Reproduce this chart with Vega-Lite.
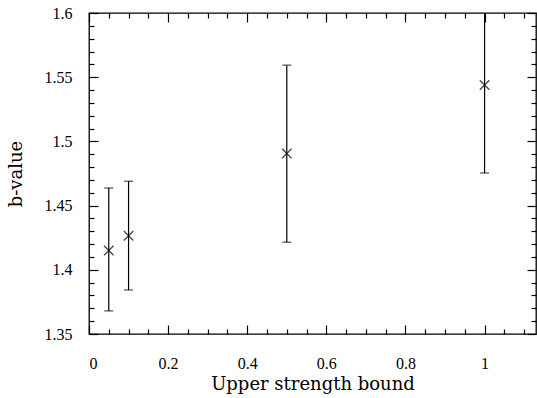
{
  "$schema": "https://vega.github.io/schema/vega-lite/v6.json",
  "width": 447,
  "height": 321,
  "autosize": "none",
  "padding": {"left": 89, "top": 13, "right": 1, "bottom": 64},
  "background": "white",
  "config": {
    "view": {"stroke": "black", "strokeWidth": 1.3},
    "axis": {"labelFont": "Liberation Serif", "titleFont": "DejaVu Serif", "labelColor": "black", "titleColor": "black", "tickColor": "black", "domain": false, "grid": false, "titleFontWeight": "normal", "labelFontSize": 16, "titleFontSize": 18, "tickWidth": 1.2}
  },
  "data": {
    "values": [
      {"bound": 0.05, "b": 1.415, "lo": 1.368, "hi": 1.4637},
      {"bound": 0.1, "b": 1.4266, "lo": 1.3843, "hi": 1.469},
      {"bound": 0.5, "b": 1.4905, "lo": 1.4215, "hi": 1.5594},
      {"bound": 1.0, "b": 1.544, "lo": 1.4754, "hi": 1.613}
    ]
  },
  "resolve": {"axis": {"x": "independent", "y": "independent"}},
  "layer": [
    {
      "mark": {"type": "rule", "clip": true, "color": "black", "strokeWidth": 1.2},
      "encoding": {
        "x": {"field": "bound", "type": "quantitative", "scale": {"domain": [0, 1.13], "nice": false, "zero": false},
          "axis": {"orient": "bottom", "title": "Upper strength bound", "titlePadding": 0,
            "values": [0, 0.05, 0.1, 0.15, 0.2, 0.25, 0.3, 0.35, 0.4, 0.45, 0.5, 0.55, 0.6, 0.65, 0.7, 0.75, 0.8, 0.85, 0.9, 0.95, 1, 1.05, 1.1],
            "labelExpr": "abs(datum.value*5 - round(datum.value*5)) < 0.001 ? format(datum.value, '~g') : ''",
            "labelOverlap": false, "labelPadding": 30,
            "tickSize": {"condition": {"test": "abs(datum.value*5 - round(datum.value*5)) < 0.001", "value": -9}, "value": -5}}},
        "y": {"field": "lo", "type": "quantitative", "scale": {"domain": [1.35, 1.6], "nice": false, "zero": false},
          "axis": {"orient": "left", "title": "b-value", "titlePadding": 19,
            "values": [1.35, 1.36, 1.37, 1.38, 1.39, 1.4, 1.41, 1.42, 1.43, 1.44, 1.45, 1.46, 1.47, 1.48, 1.49, 1.5, 1.51, 1.52, 1.53, 1.54, 1.55, 1.56, 1.57, 1.58, 1.59, 1.6],
            "labelExpr": "abs(datum.value*20 - round(datum.value*20)) < 0.001 ? format(datum.value, '~g') : ''",
            "labelOverlap": false, "labelPadding": 26,
            "tickSize": {"condition": {"test": "abs(datum.value*20 - round(datum.value*20)) < 0.001", "value": -9}, "value": -5}}},
        "y2": {"field": "hi"}
      }
    },
    {
      "mark": {"type": "tick", "orient": "horizontal", "color": "black", "size": 9, "thickness": 1.2},
      "encoding": {
        "x": {"field": "bound", "type": "quantitative",
          "axis": {"orient": "top", "title": null, "labels": false,
            "values": [0, 0.05, 0.1, 0.15, 0.2, 0.25, 0.3, 0.35, 0.4, 0.45, 0.5, 0.55, 0.6, 0.65, 0.7, 0.75, 0.8, 0.85, 0.9, 0.95, 1, 1.05, 1.1],
            "tickSize": {"condition": {"test": "abs(datum.value*5 - round(datum.value*5)) < 0.001", "value": -9}, "value": -5}}},
        "y": {"field": "lo", "type": "quantitative",
          "axis": {"orient": "right", "title": null, "labels": false,
            "values": [1.35, 1.36, 1.37, 1.38, 1.39, 1.4, 1.41, 1.42, 1.43, 1.44, 1.45, 1.46, 1.47, 1.48, 1.49, 1.5, 1.51, 1.52, 1.53, 1.54, 1.55, 1.56, 1.57, 1.58, 1.59, 1.6],
            "tickSize": {"condition": {"test": "abs(datum.value*20 - round(datum.value*20)) < 0.001", "value": -9}, "value": -5}}}
      }
    },
    {
      "mark": {"type": "tick", "orient": "horizontal", "color": "black", "size": 9, "thickness": 1.2, "clip": true},
      "encoding": {
        "x": {"field": "bound", "type": "quantitative", "axis": null},
        "y": {"field": "hi", "type": "quantitative", "axis": null}
      }
    },
    {
      "mark": {"type": "point", "shape": "M-1,-1L1,1M-1,1L1,-1", "size": 90, "color": "black", "strokeWidth": 1.4, "filled": false},
      "encoding": {
        "x": {"field": "bound", "type": "quantitative", "axis": null},
        "y": {"field": "b", "type": "quantitative", "axis": null}
      }
    }
  ]
}
